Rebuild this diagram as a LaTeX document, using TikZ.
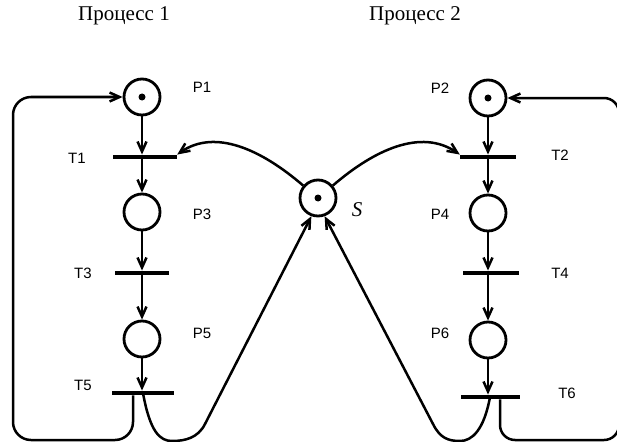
\documentclass[tikz,border=0pt]{standalone}
\usepackage{fontspec}
\setmainfont{Liberation Serif}
\setsansfont{Liberation Sans}
\usepackage{tikz}
\usetikzlibrary{positioning, arrows.meta}

\begin{document}
\begin{tikzpicture}[x=1pt, y=-1pt,
  place/.style={circle, draw, line width=2.8pt, minimum size=36pt, inner sep=0pt},
  trans/.style={fill, minimum width=60pt, minimum height=4.5pt, inner sep=0pt},
  lbl/.style={font=\sffamily\fontsize{15}{15}\selectfont},
  arc/.style={line width=2.5pt, -{Straight Barb[length=10pt,width=9pt]}}]
\useasboundingbox (0,0) rectangle (617,441);
\clip (0,0) rectangle (617,441);
\node[font=\fontsize{21}{21}\selectfont] (title1) at (124,16) {Процесс 1};
\node[font=\fontsize{21}{21}\selectfont] (title2) at (415,16) {Процесс 2};
% places
\node[place] (P1) at (142,97) {};
\node[place] (P3) at (142,212) {};
\node[place] (P5) at (142,339) {};
\node[place] (P2) at (488,98) {};
\node[place] (P4) at (488,213) {};
\node[place] (P6) at (488,340) {};
\node[place] (S) at (318,198) {};
\fill (P1) circle (3.5pt);
\fill (P2) circle (3.5pt);
\fill (S) circle (3.5pt);
% transitions
\node[trans, minimum width=64pt] (T1) at (145,157) {};
\node[trans, minimum width=54pt] (T3) at (142,273) {};
\node[trans, minimum width=62pt] (T5) at (143,393) {};
\node[trans, minimum width=56pt] (T2) at (488,157) {};
\node[trans, minimum width=56pt] (T4) at (491,273) {};
\node[trans, minimum width=59pt] (T6) at (490,397) {};
% labels
\node[lbl] at (202,87) {P1};
\node[lbl] at (202,214) {P3};
\node[lbl] at (202,333) {P5};
\node[lbl] at (440,88) {P2};
\node[lbl] at (440,214) {P4};
\node[lbl] at (440,333) {P6};
\node[lbl] at (77,158) {T1};
\node[lbl] at (83,273) {T3};
\node[lbl] at (83,385) {T5};
\node[lbl] at (560,155) {T2};
\node[lbl] at (560,273) {T4};
\node[lbl] at (567,393) {T6};
\node[font=\fontsize{21}{21}\selectfont\itshape] at (357,210) {S};
% process 1
\draw[arc] (P1) -- (P1 |- T1.north);
\draw[arc] (P1 |- T1.center) -- (P3);
\draw[arc] (P3) -- (P3 |- T3.north);
\draw[arc] (P3 |- T3.center) -- (P5);
\draw[arc] (P5) -- (P5 |- T5.north);
\draw[arc, rounded corners=18pt] ([xshift=-10pt]T5.south) |- (13,440) |- (P1.west);
% process 2
\draw[arc] (P2) -- (P2 |- T2.north);
\draw[arc] (P2 |- T2.center) -- (P4);
\draw[arc] (P4) -- (P4 |- T4.north);
\draw[arc] (P4 |- T4.center) -- (P6);
\draw[arc] (P6) -- (P6 |- T6.north);
\draw[arc, rounded corners=15pt] ([xshift=10pt]T6.south) |- (619,440) |- (P2.east);
% semaphore
\draw[arc] (S.140) .. controls (262,150) and (215,128) .. (T1.north east);
\draw[arc] (S.40) .. controls (374,150) and (421,128) .. (T2.north west);
\draw[arc] (T5.center) .. controls (150,432) and (160,441) .. (172,441)
  .. controls (185,441) and (198,438) .. (205,424) -- (S.250);
\draw[arc] (T6.center) .. controls (484,430) and (472,441) .. (460,441)
  .. controls (448,441) and (440,438) .. (433,424) -- (S.290);
\end{tikzpicture}
\end{document}
